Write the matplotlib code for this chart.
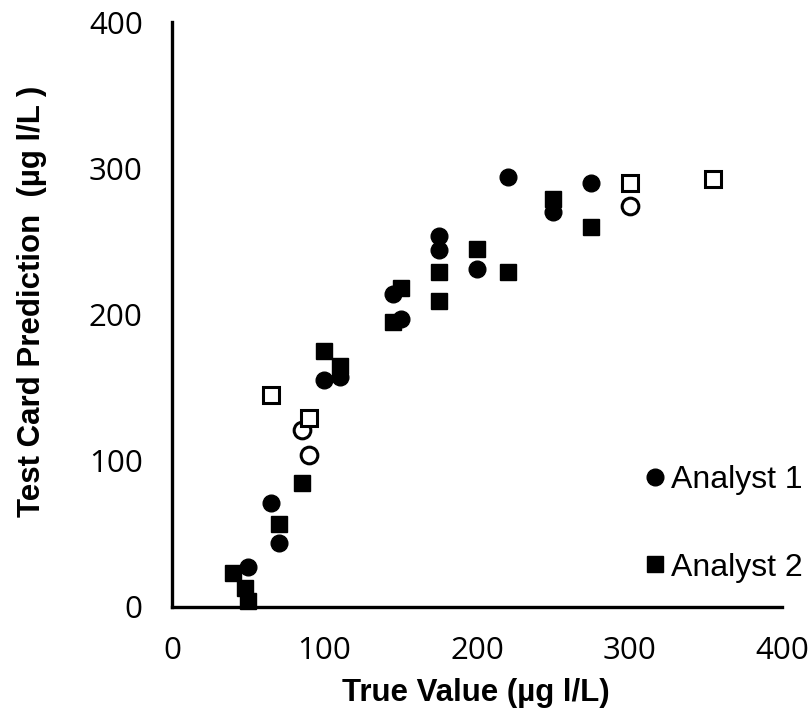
import matplotlib
matplotlib.use("Agg")
import matplotlib.pyplot as plt

# ── Data (µg I/L) ────────────────────────────────────────────────────────
a1_x = [50, 65, 70, 100, 110, 145, 150, 175, 175, 200, 220, 250, 275]
a1_y = [27, 71, 44, 155, 157, 214, 197, 254, 244, 231, 294, 270, 290]

a2_x = [40, 48, 50, 70, 85, 100, 110, 145, 150, 175, 175, 200, 220, 250, 275]
a2_y = [23, 13, 4, 57, 85, 175, 165, 195, 218, 229, 209, 245, 229, 279, 260]

# open markers (outliers)
a1_out_x = [85, 90, 300]
a1_out_y = [121, 104, 274]
a2_out_x = [65, 90, 300, 355]
a2_out_y = [145, 129, 290, 293]

ticks = [0, 100, 200, 300, 400]

fig = plt.figure(figsize=(8.12, 7.13), dpi=100)
ax = fig.add_axes([0.2118, 0.1487, 0.9631 - 0.2118, 0.9691 - 0.1487])

ax.plot(a1_x, a1_y, "o", ms=12, color="black", mec="black", label="Analyst 1",
        clip_on=False)
ax.plot(a2_x, a2_y, "s", ms=11, color="black", mec="black", label="Analyst 2",
        clip_on=False)
ax.plot(a1_out_x, a1_out_y, "o", ms=12, mfc="white", mec="black", mew=2.2,
        clip_on=False)
ax.plot(a2_out_x, a2_out_y, "s", ms=12, mfc="white", mec="black", mew=2.2,
        clip_on=False)

ax.set_xlim(0, 400)
ax.set_ylim(0, 400)
ax.set_xticks(ticks)
ax.set_yticks(ticks)
ax.tick_params(length=0, pad=21, labelsize=22.5, labelfontfamily="Open Sans")

for side in ("top", "right"):
    ax.spines[side].set_visible(False)
for side in ("left", "bottom"):
    ax.spines[side].set_linewidth(2.4)

lab_font = dict(family="Liberation Sans", weight="bold", size=22.5)
ax.set_xlabel("True Value (µg l/L)", **lab_font)
ax.set_ylabel("Test Card Prediction  (µg l/L )", **lab_font)
ax.xaxis.set_label_coords(0.498, -0.121)
ax.yaxis.set_label_coords(-0.205, 0.522)

ax.legend(loc="center left", bbox_to_anchor=(0.755, 0.142), frameon=False,
          prop={"family": "Liberation Sans", "size": 23},
          handlelength=0.6, handletextpad=0.2, labelspacing=1.8,
          borderaxespad=0, markerscale=1.0)

fig.savefig("out.png", dpi=100)
